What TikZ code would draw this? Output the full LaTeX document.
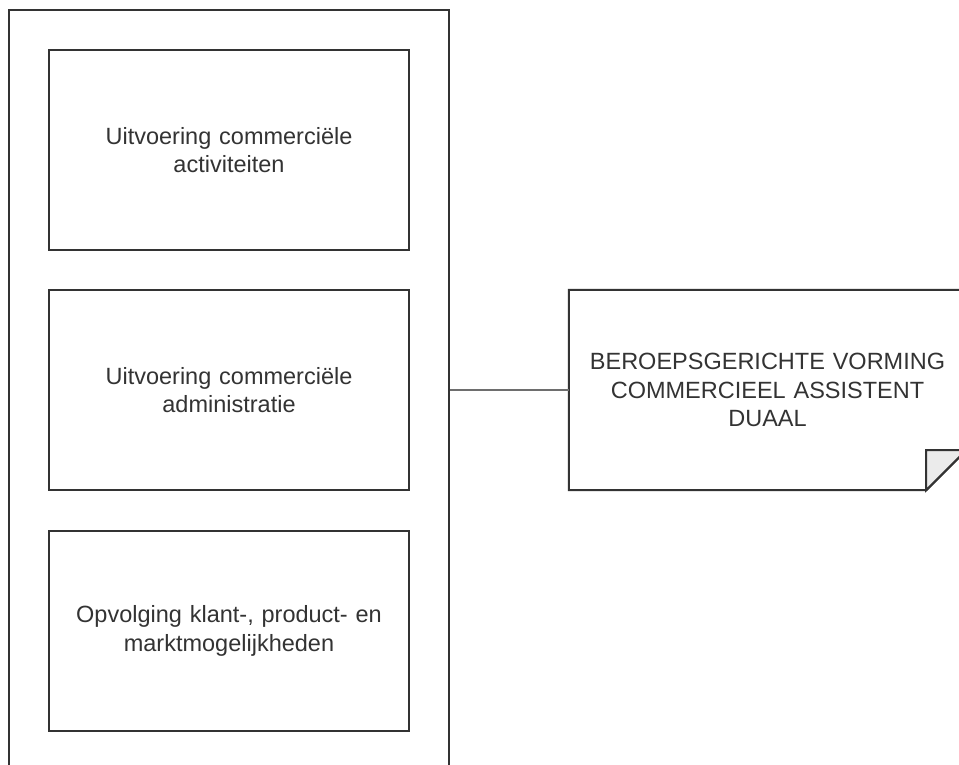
\documentclass[tikz,border=0pt]{standalone}
\usepackage{fontspec}
\setmainfont{Liberation Sans}
\definecolor{edge}{HTML}{333333}
\definecolor{txt}{HTML}{333333}
\definecolor{conn}{HTML}{6E6E6E}
\definecolor{foldfill}{HTML}{EBEBEB}
\tikzset{
  outerbox/.style={draw=edge, line width=2pt, minimum width=440pt, minimum height=780pt, inner sep=0pt},
  unitbox/.style={draw=edge, line width=2pt, minimum width=360pt, minimum height=200pt, inner sep=0pt,
    text width=340pt, align=center, text=txt, font=\fontsize{23.5}{28.5}\selectfont},
  notebox/.style={draw=none, minimum width=397pt, minimum height=200pt, inner sep=0pt,
    text width=380pt, align=center, text=txt, font=\fontsize{23.5}{28.5}\selectfont},
  conline/.style={draw=conn, line width=2.2pt},
  noteline/.style={draw=edge, line width=2pt, line join=miter}
}
\begin{document}
\begin{tikzpicture}[x=1pt,y=-1pt]
\useasboundingbox (0,0) rectangle (959,765);
\fill[white] (0,0) rectangle (959,765);
\clip (0,0) rectangle (959,765);
\node[outerbox] (outer) at (229,400) {};
\node[unitbox] (u1) at (229,150) {Uitvoering commerciële\\activiteiten};
\node[unitbox] (u2) at (229,390) {Uitvoering commerciële\\administratie};
\node[unitbox] (u3) at (229,631) {Opvolging klant-, product- en\\marktmogelijkheden};
\node[notebox] (note) at (767.5,390) {BEROEPSGERICHTE VORMING\\COMMERCIEEL ASSISTENT\\DUAAL};
\draw[noteline] (note.north west) -- (note.north east) -- ([yshift=40pt]note.south east)
  -- ([xshift=-40pt]note.south east) -- (note.south west) -- cycle;
\filldraw[noteline, fill=foldfill] ([xshift=-40pt,yshift=40pt]note.south east) -- ([yshift=40pt]note.south east)
  -- ([xshift=-40pt]note.south east) -- cycle;
\draw[conline] (outer.east |- note.west) -- (note.west);
\end{tikzpicture}
\end{document}
